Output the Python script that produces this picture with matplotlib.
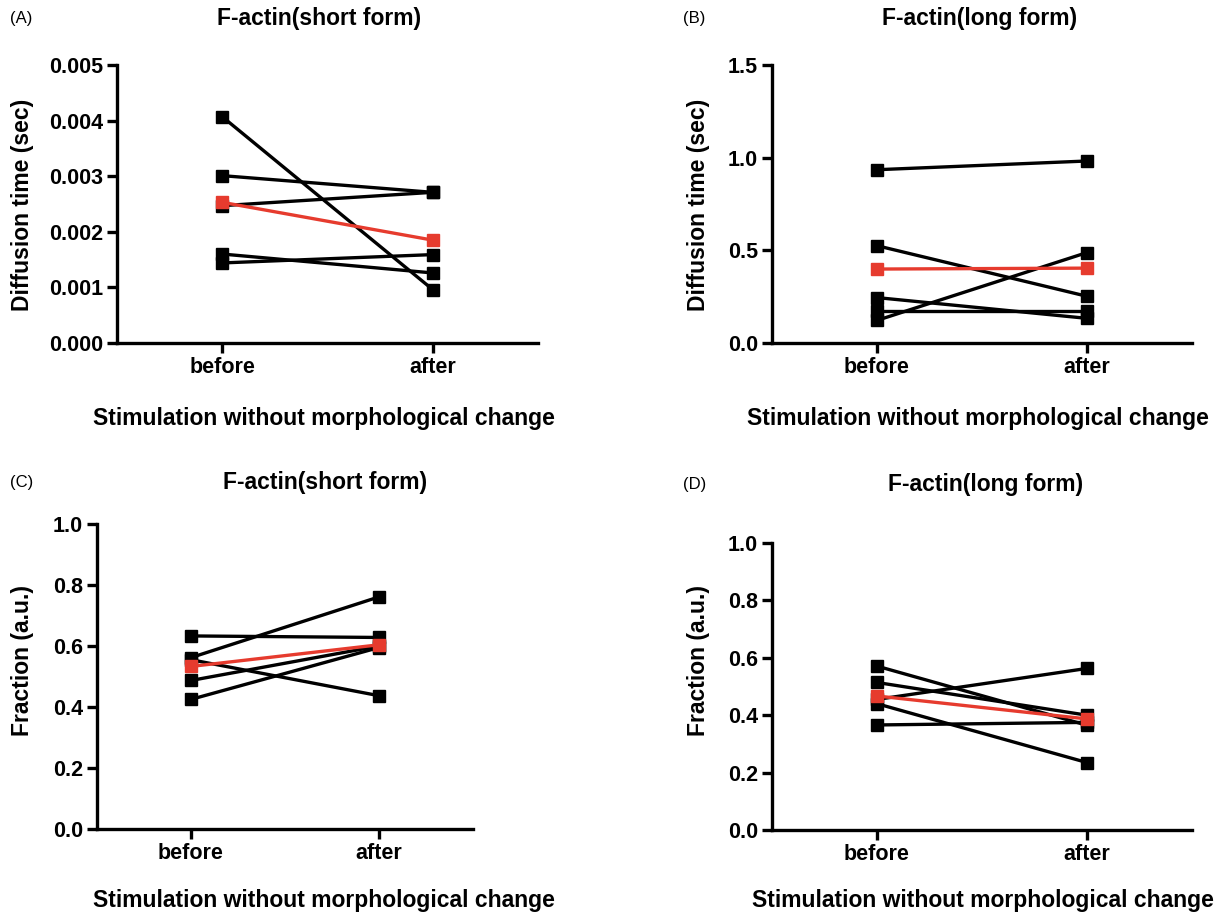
import matplotlib
matplotlib.use("Agg")
import matplotlib.pyplot as plt
from matplotlib.ticker import FormatStrFormatter

plt.rcParams['font.family'] = ['Liberation Sans', 'DejaVu Sans']

W, H = 1232, 917
DPI = 100

conditions = ["before", "after"]

# Panel A: F-actin (short form), diffusion time (sec)
a_before = [0.00407, 0.00301, 0.00247, 0.00160, 0.00144]
a_after = [0.00096, 0.00271, 0.00271, 0.00126, 0.00159]
a_mean = [0.00253, 0.00185]

# Panel B: F-actin (long form), diffusion time (sec)
b_before = [0.935, 0.525, 0.245, 0.172, 0.122]
b_after = [0.982, 0.252, 0.133, 0.172, 0.488]
b_mean = [0.399, 0.404]

# Panel C: F-actin (short form), fraction (a.u.)
c_before = [0.633, 0.562, 0.555, 0.487, 0.425]
c_after = [0.628, 0.761, 0.437, 0.600, 0.595]
c_mean = [0.533, 0.604]

# Panel D: F-actin (long form), fraction (a.u.)
d_before = [0.571, 0.514, 0.455, 0.440, 0.366]
d_after = [0.365, 0.400, 0.563, 0.235, 0.375]
d_mean = [0.467, 0.387]

RED = '#e63b2e'

panels = [
    dict(box=(117, 538, 65, 343), before=a_before, after=a_after, mean=a_mean,
         ylim=(0, 0.005), yticks=[0, 0.001, 0.002, 0.003, 0.004, 0.005], fmt='%.3f',
         ylabel="Diffusion time (sec)", title="F-actin(short form)", tag="(A)",
         title_xy=(319, 18), tag_xy=(10, 18), xl_xy=(324, 418), yl_xy=(23, 205)),
    dict(box=(772, 1192, 65, 343), before=b_before, after=b_after, mean=b_mean,
         ylim=(0, 1.5), yticks=[0, 0.5, 1.0, 1.5], fmt='%.1f',
         ylabel="Diffusion time (sec)", title="F-actin(long form)", tag="(B)",
         title_xy=(980, 18), tag_xy=(683, 18), xl_xy=(978, 418), yl_xy=(698, 205)),
    dict(box=(97, 473, 524, 829), before=c_before, after=c_after, mean=c_mean,
         ylim=(0, 1.0), yticks=[0, 0.2, 0.4, 0.6, 0.8, 1.0], fmt='%.1f',
         ylabel="Fraction (a.u.)", title="F-actin(short form)", tag="(C)",
         title_xy=(325, 483), tag_xy=(10, 483), xl_xy=(324, 901), yl_xy=(23, 660)),
    dict(box=(772, 1192, 543, 830), before=d_before, after=d_after, mean=d_mean,
         ylim=(0, 1.0), yticks=[0, 0.2, 0.4, 0.6, 0.8, 1.0], fmt='%.1f',
         ylabel="Fraction (a.u.)", title="F-actin(long form)", tag="(D)",
         title_xy=(986, 484), tag_xy=(683, 484), xl_xy=(983, 901), yl_xy=(698, 660)),
]

fig = plt.figure(figsize=(W / DPI, H / DPI), dpi=DPI)


def fx(px):
    return px / W


def fy(py):
    return 1 - py / H


for p in panels:
    x0, x1, y0, y1 = p['box']
    ax = fig.add_axes([fx(x0), fy(y1), (x1 - x0) / W, (y1 - y0) / H])
    xs = [0, 1]
    for b, a in zip(p['before'], p['after']):
        ax.plot(xs, [b, a], color='black', lw=2.4, marker='s', ms=8.5,
                solid_capstyle='butt', clip_on=False, zorder=3)
    ax.plot(xs, p['mean'], color=RED, lw=2.4, marker='s', ms=8.5,
            clip_on=False, zorder=4)

    ax.set_xlim(-0.5, 1.5)
    ax.set_ylim(*p['ylim'])
    ax.set_yticks(p['yticks'])
    ax.yaxis.set_major_formatter(FormatStrFormatter(p['fmt']))
    ax.set_xticks(xs)
    ax.set_xticklabels(conditions)
    for s in ('top', 'right'):
        ax.spines[s].set_visible(False)
    for s in ('left', 'bottom'):
        ax.spines[s].set_linewidth(2.4)
    ax.tick_params(axis='both', length=7, width=2.4, labelsize=15.5, pad=3)
    ax.tick_params(axis='x', pad=3)
    for lab in ax.get_xticklabels() + ax.get_yticklabels():
        lab.set_fontweight('bold')

    fig.text(fx(p['title_xy'][0]), fy(p['title_xy'][1]), p['title'],
             ha='center', va='center', fontsize=16.5, fontweight='bold')
    fig.text(fx(p['tag_xy'][0]), fy(p['tag_xy'][1]), p['tag'],
             ha='left', va='center', fontsize=12)
    fig.text(fx(p['xl_xy'][0]), fy(p['xl_xy'][1]),
             "Stimulation without morphological change",
             ha='center', va='center', fontsize=16.5, fontweight='bold')
    fig.text(fx(p['yl_xy'][0]), fy(p['yl_xy'][1]), p['ylabel'],
             ha='center', va='center', rotation=90, fontsize=16.5, fontweight='bold')

fig.savefig("out.png", dpi=DPI, facecolor='white')
